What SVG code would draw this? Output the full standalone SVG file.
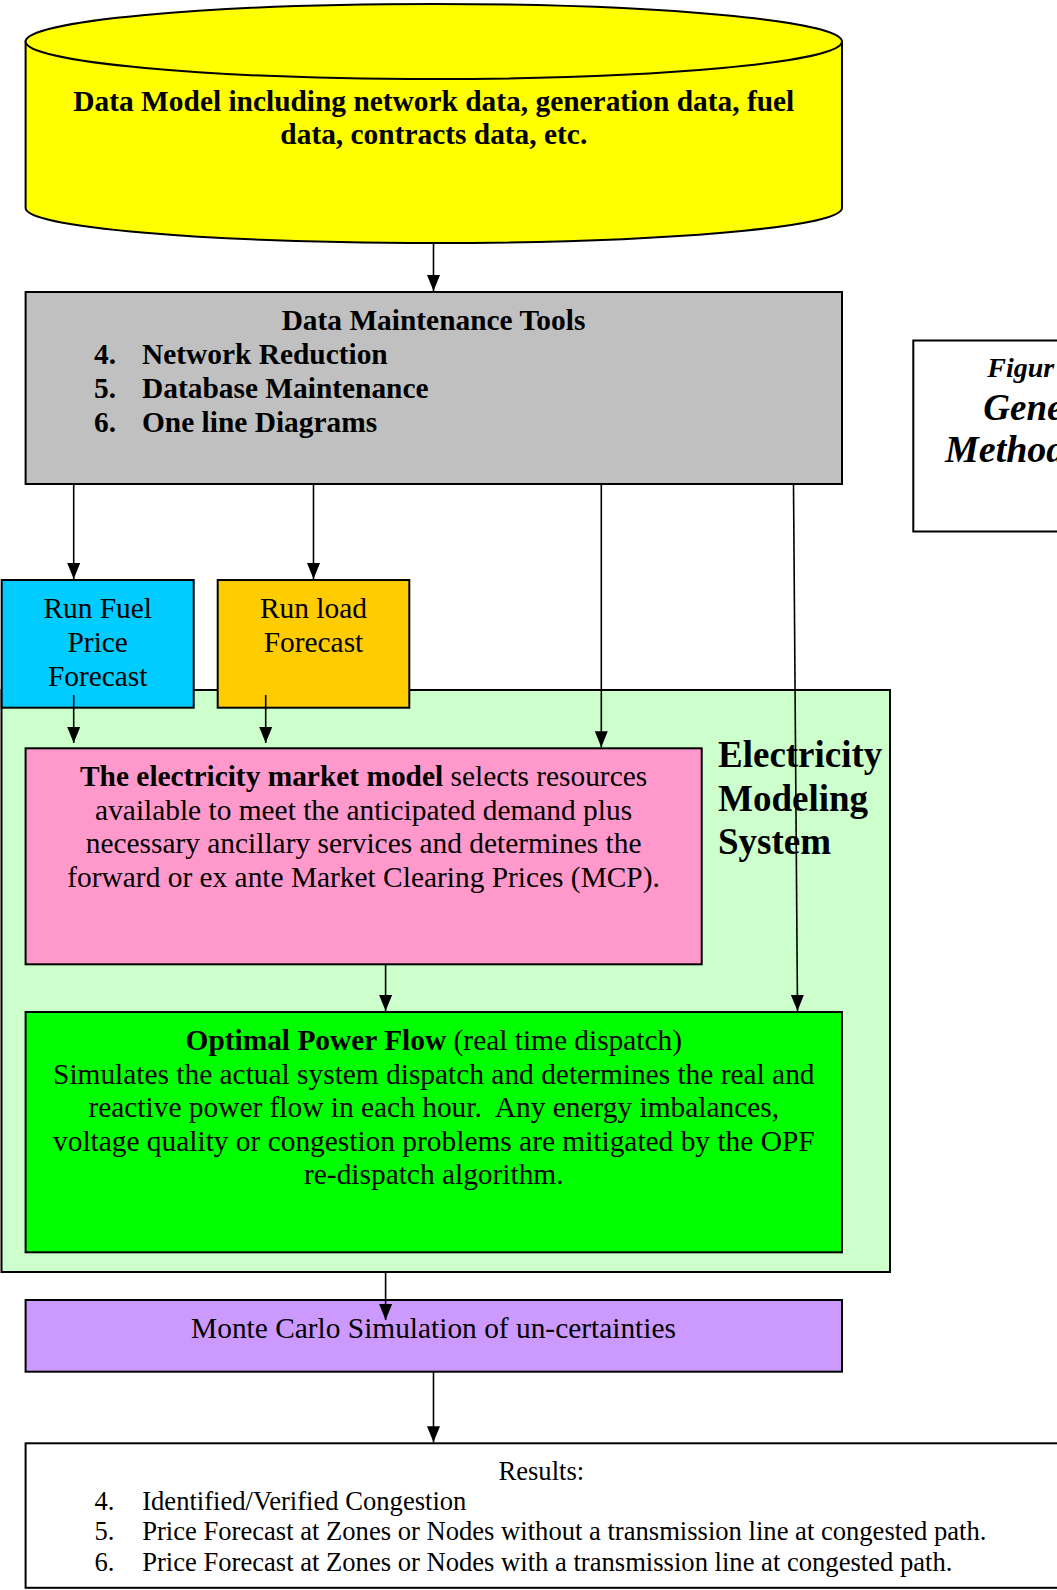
<svg xmlns="http://www.w3.org/2000/svg" width="1057" height="1590" viewBox="0 0 1057 1590">
<defs>
<marker id="ah" viewBox="0 0 16 13" refX="16" refY="6.5" markerWidth="16" markerHeight="13" markerUnits="userSpaceOnUse" orient="auto">
<path d="M0,0 L16,6.5 L0,13 Z" fill="#000"/>
</marker>
<style>
.t{font-family:"Liberation Serif","Times New Roman",serif;font-size:29.4px;fill:#000}
.b{font-weight:bold}
.c{text-anchor:middle}
.box{stroke:#000;stroke-width:2}
.ln{stroke:#000;stroke-width:1.6;fill:none}
.ar{stroke:#000;stroke-width:1.6;fill:none;marker-end:url(#ah)}
.r{font-size:26.6px}
.e{font-size:37px;font-weight:bold}
.f{font-weight:bold;font-style:italic}
</style>
</defs>
<rect width="1057" height="1590" fill="#fff"/>

<g id="container-ems">
<rect class="box" x="1.5" y="690" width="888.5" height="582" fill="#CCFFCC"/>
<text class="t e" x="718" y="767">Electricity</text>
<text class="t e" x="718" y="810.5">Modeling</text>
<text class="t e" x="718" y="853.5">System</text>
</g>

<g id="data-model">
<path class="box" d="M25.6,41.5 V208 A408.2,35 0 0 0 842,208 V41.5 Z" fill="#FFFF00"/>
<ellipse class="box" cx="433.8" cy="41.5" rx="408.2" ry="37.5" fill="#FFFF00"/>
<text class="t b c" x="433.8" y="110.5">Data Model including network data, generation data, fuel</text>
<text class="t b c" x="433.8" y="144">data, contracts data, etc.</text>
</g>

<g id="data-maintenance">
<rect class="box" x="25.6" y="292" width="816.4" height="192" fill="#C0C0C0"/>
<text class="t b c" x="433.5" y="330">Data Maintenance Tools</text>
<text class="t b" x="94" y="364">4.</text><text class="t b" x="142" y="364">Network Reduction</text>
<text class="t b" x="94" y="398">5.</text><text class="t b" x="142" y="398">Database Maintenance</text>
<text class="t b" x="94" y="432">6.</text><text class="t b" x="142" y="432">One line Diagrams</text>
</g>

<g id="figure-caption">
<rect class="box" x="913.3" y="340.5" width="160" height="191" fill="#fff"/>
<text class="t f" x="987.3" y="376.7" style="font-size:28px">Figur</text>
<text class="t f" x="983.3" y="419.5" style="font-size:37px">Gene</text>
<text class="t f" x="945" y="462" style="font-size:38px">Method</text>
</g>

<g id="fuel-price">
<rect class="box" x="1.7" y="580" width="192" height="127.7" fill="#00CCFF"/>
<text class="t c" x="97.7" y="617.7">Run Fuel</text>
<text class="t c" x="97.7" y="651.7">Price</text>
<text class="t c" x="97.7" y="685.7">Forecast</text>
</g>

<g id="load-forecast">
<rect class="box" x="217.7" y="580" width="191.6" height="127.7" fill="#FFCC00"/>
<text class="t c" x="313.5" y="617.7">Run load</text>
<text class="t c" x="313.5" y="651.7">Forecast</text>
</g>

<g id="market-model">
<rect class="box" x="25.6" y="748.3" width="676.1" height="216" fill="#FF99CC"/>
<text class="t c" x="363.6" y="786"><tspan class="b">The electricity market model</tspan> selects resources</text>
<text class="t c" x="363.6" y="819.5">available to meet the anticipated demand plus</text>
<text class="t c" x="363.6" y="853">necessary ancillary services and determines the</text>
<text class="t c" x="363.6" y="886.5">forward or ex ante Market Clearing Prices (MCP).</text>
</g>

<g id="opf">
<rect class="box" x="25.6" y="1012" width="816.4" height="240.3" fill="#00FF00"/>
<text class="t c" x="433.8" y="1050"><tspan class="b">Optimal Power Flow</tspan> (real time dispatch)</text>
<text class="t c" x="433.8" y="1083.5">Simulates the actual system dispatch and determines the real and</text>
<text class="t c" x="433.8" y="1117" xml:space="preserve" style="white-space:pre">reactive power flow in each hour.  Any energy imbalances,</text>
<text class="t c" x="433.8" y="1150.5">voltage quality or congestion problems are mitigated by the OPF</text>
<text class="t c" x="433.8" y="1184">re-dispatch algorithm.</text>
</g>

<g id="monte-carlo">
<rect class="box" x="25.6" y="1300" width="816.4" height="71.7" fill="#CC99FF"/>
<text class="t c" x="433.5" y="1338.3">Monte Carlo Simulation of un-certainties</text>
</g>

<g id="results">
<rect class="box" x="25.6" y="1443.3" width="1040" height="144.5" fill="#fff"/>
<text class="t r c" x="541.3" y="1480">Results:</text>
<text class="t r" x="94.4" y="1509.5">4.</text><text class="t r" x="142.2" y="1509.5">Identified/Verified Congestion</text>
<text class="t r" x="94.4" y="1540">5.</text><text class="t r" x="142.2" y="1540">Price Forecast at Zones or Nodes without a transmission line at congested path.</text>
<text class="t r" x="94.4" y="1570.5">6.</text><text class="t r" x="142.2" y="1570.5">Price Forecast at Zones or Nodes with a transmission line at congested path.</text>
</g>

<g id="connectors">
<line class="ar" x1="433.5" y1="243.5" x2="433.5" y2="291"/>
<line class="ar" x1="73.7" y1="484" x2="73.7" y2="579"/>
<line class="ar" x1="313.5" y1="484" x2="313.5" y2="579"/>
<line class="ar" x1="601.3" y1="484" x2="601.3" y2="747.3"/>
<line class="ar" x1="793.5" y1="484" x2="797.5" y2="1011"/>
<line class="ar" x1="73.7" y1="695" x2="73.7" y2="743"/>
<line class="ar" x1="265.7" y1="695" x2="265.7" y2="743"/>
<line class="ar" x1="385.6" y1="964.3" x2="385.6" y2="1011"/>
<line class="ar" x1="385.6" y1="1272" x2="385.6" y2="1320"/>
<line class="ar" x1="433.5" y1="1371.7" x2="433.5" y2="1442.3"/>
</g>
</svg>
